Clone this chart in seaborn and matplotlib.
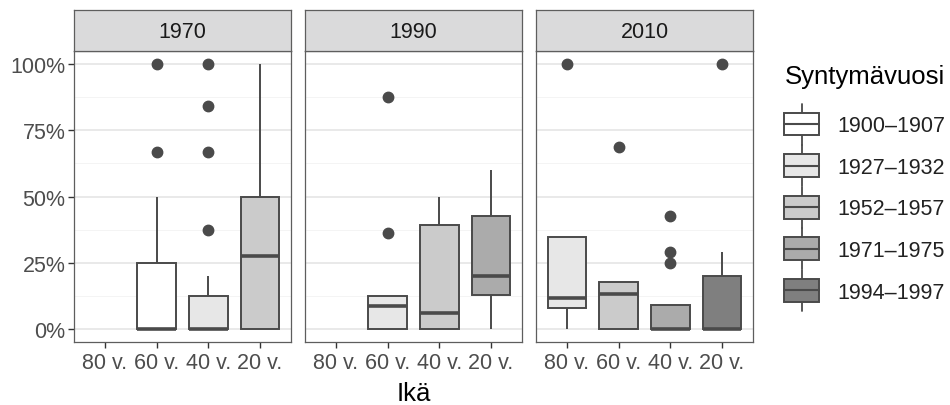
import matplotlib
matplotlib.use("Agg")
import matplotlib.pyplot as plt
import pandas as pd
import seaborn as sns
from matplotlib.patches import Rectangle
from matplotlib.lines import Line2D
from matplotlib.legend_handler import HandlerBase
from matplotlib.ticker import FixedLocator

# ---- data -------------------------------------------------------------
years = [1970, 1990, 2010]
ages = ["80 v.", "60 v.", "40 v.", "20 v."]
cohorts = ["1900–1907", "1927–1932", "1952–1957", "1971–1975", "1994–1997"]
cohort_greys = ["#FFFFFF", "#E7E7E7", "#CBCBCB", "#ABABAB", "#7F7F7F"]

y_ticks = [0, 25, 50, 75, 100]
y_tick_labels = ["0%", "25%", "50%", "75%", "100%"]

# shares (%) of the observations in each year / age group / birth cohort
share_1970_60 = [0, 0, 0, 0, 0, 0, 0, 25, 25, 25, 50, 66.7, 100]
share_1970_40 = [0, 0, 0, 0, 0, 0, 0, 0, 0, 0, 0,
                 12.5, 12.5, 12.5, 12.5, 12.5, 20, 37.5, 66.7, 84.2, 100]
share_1970_20 = [0, 0, 0, 27.4, 27.4, 50, 50, 100, 100]

share_1990_60 = [0, 0, 0, 8.6, 8.6, 12.5, 12.5, 36.1, 87.5]
share_1990_40 = [0, 0, 0, 5.8, 5.8, 39.4, 39.4, 50, 50]
share_1990_20 = [0, 12.7, 12.7, 20.1, 20.1, 42.5, 42.5, 60, 60]

share_2010_80 = [0, 7.7, 7.7, 11.6, 11.6, 34.6, 34.6, 34.6, 100]
share_2010_60 = [0, 0, 0, 13.2, 13.2, 17.6, 17.6, 17.6, 68.8]
share_2010_40 = [0, 0, 0, 0, 0, 0, 0, 8.9, 8.9, 8.9, 24.9, 29.1, 42.8]
share_2010_20 = [0, 0, 0, 0, 0, 20.1, 20.1, 28.9, 100]

groups = [
    (1970, "60 v.", "1900–1907", share_1970_60),
    (1970, "40 v.", "1927–1932", share_1970_40),
    (1970, "20 v.", "1952–1957", share_1970_20),
    (1990, "60 v.", "1927–1932", share_1990_60),
    (1990, "40 v.", "1952–1957", share_1990_40),
    (1990, "20 v.", "1971–1975", share_1990_20),
    (2010, "80 v.", "1927–1932", share_2010_80),
    (2010, "60 v.", "1952–1957", share_2010_60),
    (2010, "40 v.", "1971–1975", share_2010_40),
    (2010, "20 v.", "1994–1997", share_2010_20),
]

df = pd.DataFrame(
    [{"vuosi": yr, "ikä": age, "syntymävuosi": coh, "osuus": v}
     for yr, age, coh, vals in groups for v in vals]
)

# ---- style ------------------------------------------------------------
sns.set_theme(style="white")
plt.rcParams["font.family"] = ["Liberation Sans", "DejaVu Sans"]

LINE = "#4A4A4A"
BORDER = "#5E5E5E"
FS = 15.5
palette = dict(zip(cohorts, cohort_greys))

W, H = 950, 406
fig = plt.figure(figsize=(W / 100, H / 100), dpi=100)


def px_box(left, top, width, height):
    return [left / W, 1 - (top + height) / H, width / W, height / H]


panel_lefts = [74, 305, 536]
panel_w = 217
panel_top, panel_h = 52, 291
strip_top, strip_h = 11, 41

for i, yr in enumerate(years):
    ax = fig.add_axes(px_box(panel_lefts[i], panel_top, panel_w, panel_h))
    sns.boxplot(
        data=df[df["vuosi"] == yr], x="ikä", y="osuus",
        hue="syntymävuosi", order=ages, hue_order=cohorts,
        palette=palette, dodge=False, width=0.75, saturation=1,
        linecolor=LINE, linewidth=1.4, showcaps=False, fliersize=7.5,
        flierprops=dict(marker="o", markerfacecolor=LINE,
                        markeredgecolor=LINE),
        medianprops=dict(color=LINE, linewidth=2.6),
        legend=False, ax=ax,
    )
    ax.set_xlim(-0.6, 3.6)
    ax.set_ylim(-5, 105)
    ax.set_xlabel("")
    ax.set_ylabel("")

    ax.yaxis.set_major_locator(FixedLocator(y_ticks))
    ax.yaxis.set_minor_locator(FixedLocator([12.5, 37.5, 62.5, 87.5]))
    ax.set_yticklabels(y_tick_labels)
    ax.set_axisbelow(True)
    ax.grid(False)
    ax.grid(which="major", axis="y", color="#E3E3E3", linewidth=1.1)
    ax.grid(which="minor", axis="y", color="#F3F3F3", linewidth=0.6)

    ax.tick_params(axis="both", which="major", length=4, width=1.0,
                   color="#333333", labelsize=FS, labelcolor="#4D4D4D",
                   pad=2, bottom=True, left=True)
    ax.tick_params(axis="x", which="major", pad=3.5)
    ax.tick_params(axis="y", which="minor", length=0)
    if i > 0:
        ax.tick_params(axis="y", left=False, labelleft=False)
    for sp in ax.spines.values():
        sp.set_visible(True)
        sp.set_color(BORDER)
        sp.set_linewidth(0.9)

    # facet strip
    sax = fig.add_axes(px_box(panel_lefts[i], strip_top, panel_w, strip_h))
    sax.set_facecolor("#DADADB")
    sax.set_xticks([])
    sax.set_yticks([])
    for sp in sax.spines.values():
        sp.set_visible(True)
        sp.set_color(BORDER)
        sp.set_linewidth(0.9)
    sax.text(0.5, 0.47, str(yr), ha="center", va="center",
             fontsize=FS, color="#1A1A1A", transform=sax.transAxes)

fig.text((panel_lefts[1] + panel_w / 2) / W, 1 - 401 / H, "Ikä",
         ha="center", va="baseline", fontsize=18.5, color="black")


# ---- legend with boxplot-shaped keys ----------------------------------
class BoxKey(HandlerBase):
    def create_artists(self, legend, orig_handle, xdescent, ydescent,
                       width, height, fontsize, trans):
        x0, y0 = -xdescent, -ydescent
        cx, cy = x0 + width / 2, y0 + height / 2
        bh = 16.5
        wl = 6.5
        whisk_up = Line2D([cx, cx], [cy + bh / 2, cy + bh / 2 + wl],
                          color=LINE, lw=1.3, transform=trans)
        whisk_dn = Line2D([cx, cx], [cy - bh / 2, cy - bh / 2 - wl],
                          color=LINE, lw=1.3, transform=trans)
        rect = Rectangle((x0, cy - bh / 2), width, bh,
                         facecolor=orig_handle.get_facecolor(),
                         edgecolor=LINE, lw=1.4, transform=trans)
        med = Line2D([x0, x0 + width], [cy, cy], color=LINE, lw=1.5,
                     transform=trans)
        return [whisk_up, whisk_dn, rect, med]


fig.text(785 / W, 1 - 77 / H, "Syntymävuosi", ha="left", va="center",
         fontsize=18.5, color="black")

handles = [Rectangle((0, 0), 1, 1, facecolor=c, edgecolor=LINE)
           for c in cohort_greys]
leg = fig.legend(
    handles, cohorts,
    loc="upper left", bbox_to_anchor=(784 / W, 1 - 114 / H),
    frameon=False, fontsize=FS,
    handler_map={Rectangle: BoxKey()},
    handlelength=1.63, handleheight=1.2, labelspacing=0.85,
    handletextpad=0.84, borderpad=0, borderaxespad=0,
)
for t in leg.get_texts():
    t.set_color("#222222")

fig.savefig("out.png", dpi=100)
